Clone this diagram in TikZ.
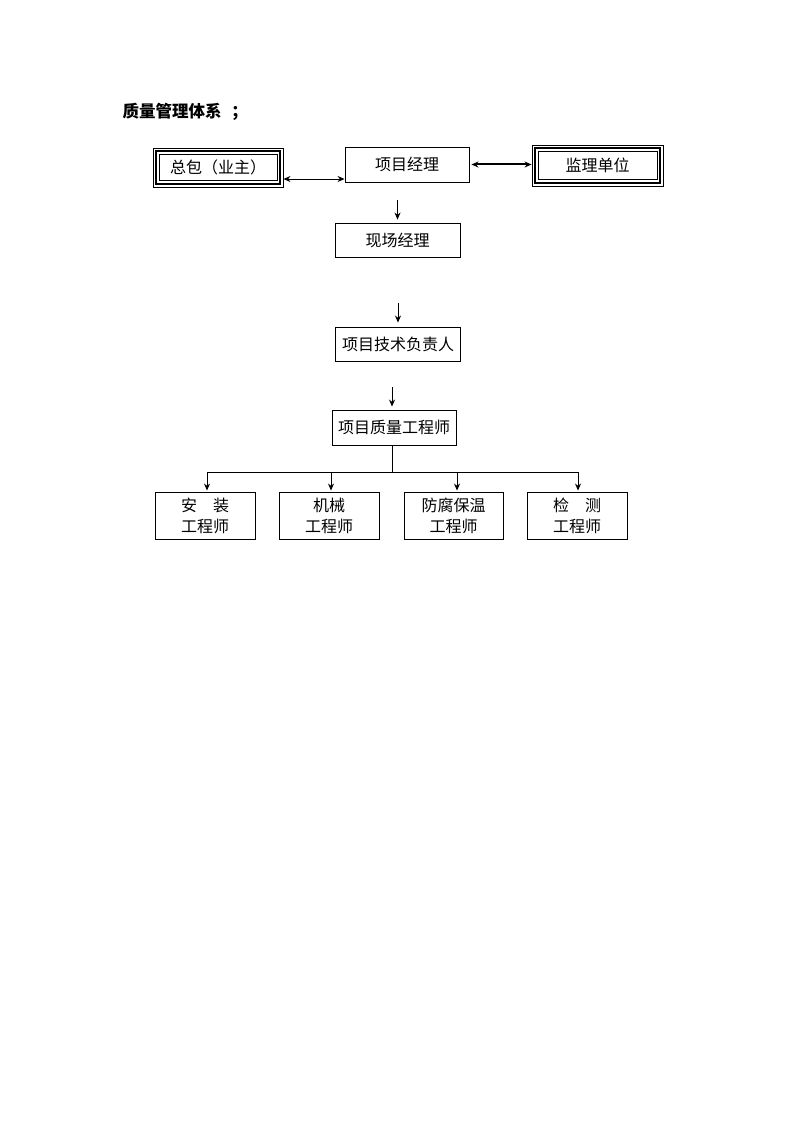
\documentclass[tikz,border=0pt]{standalone}
\usepackage{fontspec}
\setmainfont{Noto Sans CJK SC}
\usetikzlibrary{arrows.meta}
\begin{document}
\begin{tikzpicture}[x=1pt,y=-1pt,
  box/.style={draw, line width=0.9pt, inner sep=0pt, align=center,
    font=\fontsize{16}{21.5}\selectfont},
  arr/.style={-{Stealth[length=7pt,width=6pt]}, line width=0.9pt},
  darr/.style={{Stealth[length=7pt,width=6pt]}-{Stealth[length=7pt,width=6pt]}, line width=0.9pt},
  thickline/.style={line width=2.2pt},
  thinline/.style={line width=0.9pt}]
\useasboundingbox[fill=white] (0,0) rectangle (794,1123);

\node[anchor=west, font=\bfseries\fontsize{16.5}{18}\selectfont] (title) at (119,112) {质量管理体系\hspace{0.6em}；};

% top row
\node[box, minimum width=130, minimum height=39] (zb) at (218,167.5) {总包（业主）};
\draw[thickline] ([shift={(3.5pt,-3.5pt)}]zb.north west) rectangle ([shift={(-3.5pt,3.5pt)}]zb.south east);
\draw[thinline] ([shift={(6.5pt,-6.5pt)}]zb.north west) rectangle ([shift={(-6.5pt,6.5pt)}]zb.south east);

\node[box, minimum width=124, minimum height=35] (pm) at (407,164.5) {项目经理};

\node[box, minimum width=131, minimum height=41] (jl) at (597.5,165.5) {监理单位};
\draw[thickline] ([shift={(3.5pt,-3.5pt)}]jl.north west) rectangle ([shift={(-3.5pt,3.5pt)}]jl.south east);
\draw[thinline] ([shift={(6.5pt,-6.5pt)}]jl.north west) rectangle ([shift={(-6.5pt,6.5pt)}]jl.south east);

\coordinate (y179) at (0,179);
\draw[darr] (zb.east |- y179) -- (pm.west |- y179);
\draw[{Stealth[length=7pt,width=6pt]}-{Stealth[length=7pt,width=6pt]}, line width=2pt] ([xshift=2pt]pm.east) -- (jl.west |- pm.east);

% vertical chain
\node[box, minimum width=125, minimum height=34] (xc) at (397.5,240) {现场经理};
\node[box, minimum width=125, minimum height=34] (js) at (398,344) {项目技术负责人};
\node[box, minimum width=124, minimum height=35] (zl) at (394,427.5) {项目质量工程师};

\coordinate (a1) at (397.5,200);
\coordinate (a2) at (398,303);
\coordinate (a3) at (392,387);
\draw[arr] (a1) -- ([yshift=3pt]a1 |- xc.north);
\draw[arr] (a2) -- ([yshift=4pt]a2 |- js.north);
\draw[arr] (a3) -- ([yshift=3pt]a3 |- zl.north);

% bottom row
\node[box, minimum width=100, minimum height=47] (b1) at (205,516) {安　装\\工程师};
\node[box, minimum width=100, minimum height=47] (b2) at (329,516) {机械\\工程师};
\node[box, minimum width=99, minimum height=47] (b3) at (453.5,516) {防腐保温\\工程师};
\node[box, minimum width=100, minimum height=47] (b4) at (577,516) {检　测\\工程师};

\coordinate (bus) at (0,472);
\draw[thinline] (a3 |- zl.south) -- (a3 |- bus);
\draw[thinline] ([xshift=2pt]b1.north |- bus) -- ([xshift=1pt]b4.north |- bus);
\foreach \b/\s in {b1/2pt,b2/2pt,b3/3.5pt,b4/1pt}
  \draw[arr] ([xshift=\s]\b.north |- bus) -- ([xshift=\s,yshift=1.5pt]\b.north);
\end{tikzpicture}
\end{document}
